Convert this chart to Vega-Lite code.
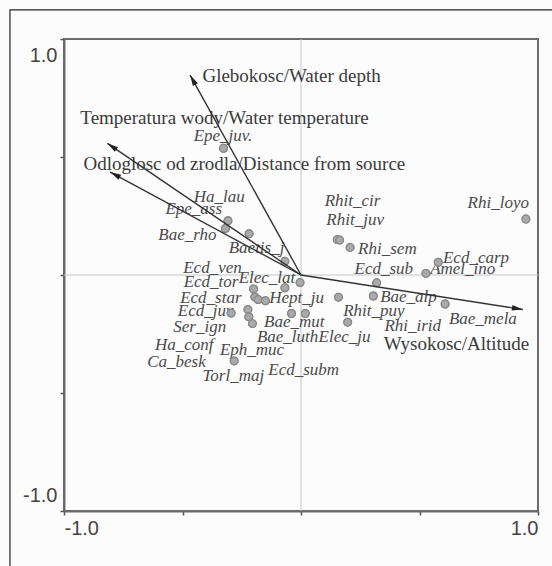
{
  "$schema": "https://vega.github.io/schema/vega-lite/v6.json",
  "width": 474,
  "height": 472,
  "autosize": {"type": "none"},
  "padding": {"left": 64, "top": 39, "right": 14, "bottom": 55},
  "background": "#fcfcfc",
  "config": {
    "view": {"stroke": "#6b6b6b", "strokeWidth": 2},
    "axis": {"grid": false}
  },
  "datasets": {
    "zero": [{"v": 0}],
    "env": [
      {"variable": "Glebokosc/Water depth", "x0": 0, "y0": 0, "x": -0.468, "y": 0.847, "lx": -0.416, "ly": 0.844},
      {"variable": "Temperatura wody/Water temperature", "x0": 0, "y0": 0, "x": -0.817, "y": 0.558, "lx": -0.931, "ly": 0.664},
      {"variable": "Odloglosc od zrodla/Distance from source", "x0": 0, "y0": 0, "x": -0.805, "y": 0.436, "lx": -0.918, "ly": 0.469},
      {"variable": "Wysokosc/Altitude", "x0": 0, "y0": 0, "x": 0.936, "y": -0.146, "lx": 0.349, "ly": -0.291}
    ],
    "points": [
      {"name": "Epe_juv.", "x": -0.327, "y": 0.537},
      {"name": "Ha_lau", "x": -0.308, "y": 0.23},
      {"name": "Epe_ass", "x": -0.319, "y": 0.197},
      {"name": "Bae_rho", "x": -0.219, "y": 0.175},
      {"name": "Baetis_j", "x": -0.068, "y": 0.058},
      {"name": "Elec_lat", "x": -0.004, "y": -0.032},
      {"name": "Ecd_ven", "x": -0.2, "y": -0.059},
      {"name": "Hept_ju a", "x": -0.068, "y": -0.054},
      {"name": "Ecd_tor", "x": -0.195, "y": -0.093},
      {"name": "Ecd_star", "x": -0.181, "y": -0.104},
      {"name": "Ecd_star b", "x": -0.15, "y": -0.109},
      {"name": "Ecd_juv", "x": -0.295, "y": -0.161},
      {"name": "Ser_ign", "x": -0.224, "y": -0.146},
      {"name": "Ha_conf", "x": -0.22, "y": -0.177},
      {"name": "Eph_muc", "x": -0.205, "y": -0.206},
      {"name": "Bae_mut", "x": -0.04, "y": -0.163},
      {"name": "Bae_luth", "x": 0.018, "y": -0.163},
      {"name": "Torl_maj", "x": -0.282, "y": -0.364},
      {"name": "Hept_ju", "x": 0.158, "y": -0.094},
      {"name": "Elec_ju", "x": 0.197, "y": -0.2},
      {"name": "Rhit_cir", "x": 0.153, "y": 0.15},
      {"name": "Rhit_juv", "x": 0.163, "y": 0.148},
      {"name": "Rhi_sem", "x": 0.207, "y": 0.117},
      {"name": "Ecd_sub", "x": 0.319, "y": -0.033},
      {"name": "Bae_alp", "x": 0.305, "y": -0.089},
      {"name": "Amel_ino", "x": 0.527, "y": 0.007},
      {"name": "Ecd_carp", "x": 0.579, "y": 0.054},
      {"name": "Bae_mela", "x": 0.608, "y": -0.123},
      {"name": "Rhi_loyo", "x": 0.949, "y": 0.237}
    ],
    "labels": [
      {"name": "Epe_juv.", "lx": -0.453, "ly": 0.587},
      {"name": "Ha_lau", "lx": -0.453, "ly": 0.331},
      {"name": "Epe_ass", "lx": -0.572, "ly": 0.281},
      {"name": "Bae_rho", "lx": -0.602, "ly": 0.168},
      {"name": "Baetis_j", "lx": -0.305, "ly": 0.113},
      {"name": "Ecd_ven", "lx": -0.497, "ly": 0.029},
      {"name": "Ecd_tor", "lx": -0.495, "ly": -0.031},
      {"name": "Elec_lat", "lx": -0.263, "ly": -0.013},
      {"name": "Ecd_star", "lx": -0.51, "ly": -0.097},
      {"name": "Hept_ju", "lx": -0.134, "ly": -0.097},
      {"name": "Ecd_juv", "lx": -0.52, "ly": -0.153},
      {"name": "Ser_ign", "lx": -0.539, "ly": -0.219},
      {"name": "Bae_mut", "lx": -0.156, "ly": -0.201},
      {"name": "Bae_luth", "lx": -0.186, "ly": -0.261},
      {"name": "Elec_ju", "lx": 0.074, "ly": -0.261},
      {"name": "Ha_conf", "lx": -0.616, "ly": -0.296},
      {"name": "Eph_muc", "lx": -0.342, "ly": -0.316},
      {"name": "Ca_besk", "lx": -0.649, "ly": -0.367},
      {"name": "Torl_maj", "lx": -0.416, "ly": -0.426},
      {"name": "Ecd_subm", "lx": -0.138, "ly": -0.403},
      {"name": "Rhit_cir", "lx": 0.1, "ly": 0.312},
      {"name": "Rhit_juv", "lx": 0.107, "ly": 0.232},
      {"name": "Rhi_sem", "lx": 0.241, "ly": 0.11},
      {"name": "Ecd_sub", "lx": 0.226, "ly": 0.026},
      {"name": "Ecd_carp", "lx": 0.599, "ly": 0.07},
      {"name": "Amel_ino", "lx": 0.545, "ly": 0.024},
      {"name": "Bae_alp", "lx": 0.334, "ly": -0.092},
      {"name": "Rhit_puy", "lx": 0.178, "ly": -0.153},
      {"name": "Rhi_irid", "lx": 0.352, "ly": -0.216},
      {"name": "Bae_mela", "lx": 0.624, "ly": -0.187},
      {"name": "Rhi_loyo", "lx": 0.703, "ly": 0.306}
    ]
  },
  "layer": [
    {
      "data": {"name": "points"},
      "mark": {"type": "point", "shape": "circle", "filled": true, "size": 60, "fill": "#aaaaaa", "stroke": "#888888", "strokeWidth": 1.2, "opacity": 1},
      "encoding": {
        "x": {"field": "x", "type": "quantitative", "scale": {"domain": [-1, 1], "nice": false, "zero": false},
          "axis": {
            "values": [-1, -0.5, 0, 0.5, 1],
            "labelExpr": "datum.value == 1 ? '1.0' : datum.value == -1 ? '-1.0' : ''",
            "labelFlush": true,
            "tickSize": 4, "tickWidth": 1.5, "tickColor": "#555555",
            "domainColor": "#6b6b6b", "domainWidth": 2,
            "labelFont": "Liberation Sans", "labelFontSize": 20, "labelColor": "#444444",
            "labelPadding": 3, "title": null
          }},
        "y": {"field": "y", "type": "quantitative", "scale": {"domain": [-1, 1], "nice": false, "zero": false},
          "axis": {
            "values": [-1, -0.5, 0, 0.5, 1],
            "labelExpr": "datum.value == 1 ? '1.0' : datum.value == -1 ? '-1.0' : ''",
            "labelFlush": true, "labelFlushOffset": -6,
            "tickSize": 4, "tickWidth": 1.5, "tickColor": "#555555",
            "domainColor": "#6b6b6b", "domainWidth": 2,
            "labelFont": "Liberation Sans", "labelFontSize": 20, "labelColor": "#444444",
            "labelPadding": 3, "title": null
          }}
      }
    },
    {
      "data": {"values": [{"part": "figure frame"}]},
      "mark": {"type": "rect", "fill": null, "fillOpacity": 0, "stroke": "#222222", "strokeWidth": 1.2, "clip": false},
      "encoding": {
        "x": {"datum": -1.228, "type": "quantitative"},
        "x2": {"datum": 1.3},
        "y": {"datum": 1.123, "type": "quantitative"},
        "y2": {"datum": -1.4}
      }
    },
    {
      "data": {"name": "zero"},
      "mark": {"type": "rule", "color": "#c6c6c6", "strokeWidth": 1},
      "encoding": {
        "x": {"field": "v", "type": "quantitative", "scale": {"domain": [-1, 1], "nice": false, "zero": false}}
      }
    },
    {
      "data": {"name": "zero"},
      "mark": {"type": "rule", "color": "#c6c6c6", "strokeWidth": 1},
      "encoding": {
        "y": {"field": "v", "type": "quantitative", "scale": {"domain": [-1, 1], "nice": false, "zero": false}}
      }
    },
    {
      "data": {"name": "labels"},
      "mark": {"type": "text", "align": "left", "baseline": "middle", "font": "Liberation Serif", "fontStyle": "italic", "fontSize": 17, "color": "#4a4a4a"},
      "encoding": {
        "x": {"field": "lx", "type": "quantitative", "scale": {"domain": [-1, 1], "nice": false, "zero": false}},
        "y": {"field": "ly", "type": "quantitative", "scale": {"domain": [-1, 1], "nice": false, "zero": false}},
        "text": {"field": "name", "type": "nominal"}
      }
    },
    {
      "data": {"name": "points"},
      "mark": {"type": "point", "shape": "circle", "filled": true, "size": 60, "fill": "#aaaaaa", "stroke": "#888888", "strokeWidth": 1.2, "opacity": 1},
      "encoding": {
        "x": {"field": "x", "type": "quantitative", "scale": {"domain": [-1, 1], "nice": false, "zero": false}},
        "y": {"field": "y", "type": "quantitative", "scale": {"domain": [-1, 1], "nice": false, "zero": false}}
      }
    },
    {
      "data": {"name": "env"},
      "mark": {"type": "text", "align": "left", "baseline": "middle", "font": "Liberation Serif", "fontSize": 19, "color": "#3a3a3a"},
      "encoding": {
        "x": {"field": "lx", "type": "quantitative", "scale": {"domain": [-1, 1], "nice": false, "zero": false}},
        "y": {"field": "ly", "type": "quantitative", "scale": {"domain": [-1, 1], "nice": false, "zero": false}},
        "text": {"field": "variable", "type": "nominal"}
      }
    },
    {
      "data": {"name": "env"},
      "mark": {"type": "rule", "color": "#333333", "strokeWidth": 1.4},
      "encoding": {
        "x": {"field": "x0", "type": "quantitative", "scale": {"domain": [-1, 1], "nice": false, "zero": false}},
        "y": {"field": "y0", "type": "quantitative", "scale": {"domain": [-1, 1], "nice": false, "zero": false}},
        "x2": {"field": "x"},
        "y2": {"field": "y"}
      }
    },
    {
      "data": {"name": "env"},
      "transform": [{"calculate": "atan2(datum.x, datum.y) * 180 / PI", "as": "heading"}],
      "mark": {"type": "point", "shape": "M0,0L-0.26,1L0.26,1Z", "filled": true, "size": 480, "color": "#222222", "opacity": 1, "strokeWidth": 0},
      "encoding": {
        "x": {"field": "x", "type": "quantitative", "scale": {"domain": [-1, 1], "nice": false, "zero": false}},
        "y": {"field": "y", "type": "quantitative", "scale": {"domain": [-1, 1], "nice": false, "zero": false}},
        "angle": {"field": "heading", "type": "quantitative", "scale": null}
      }
    }
  ]
}
